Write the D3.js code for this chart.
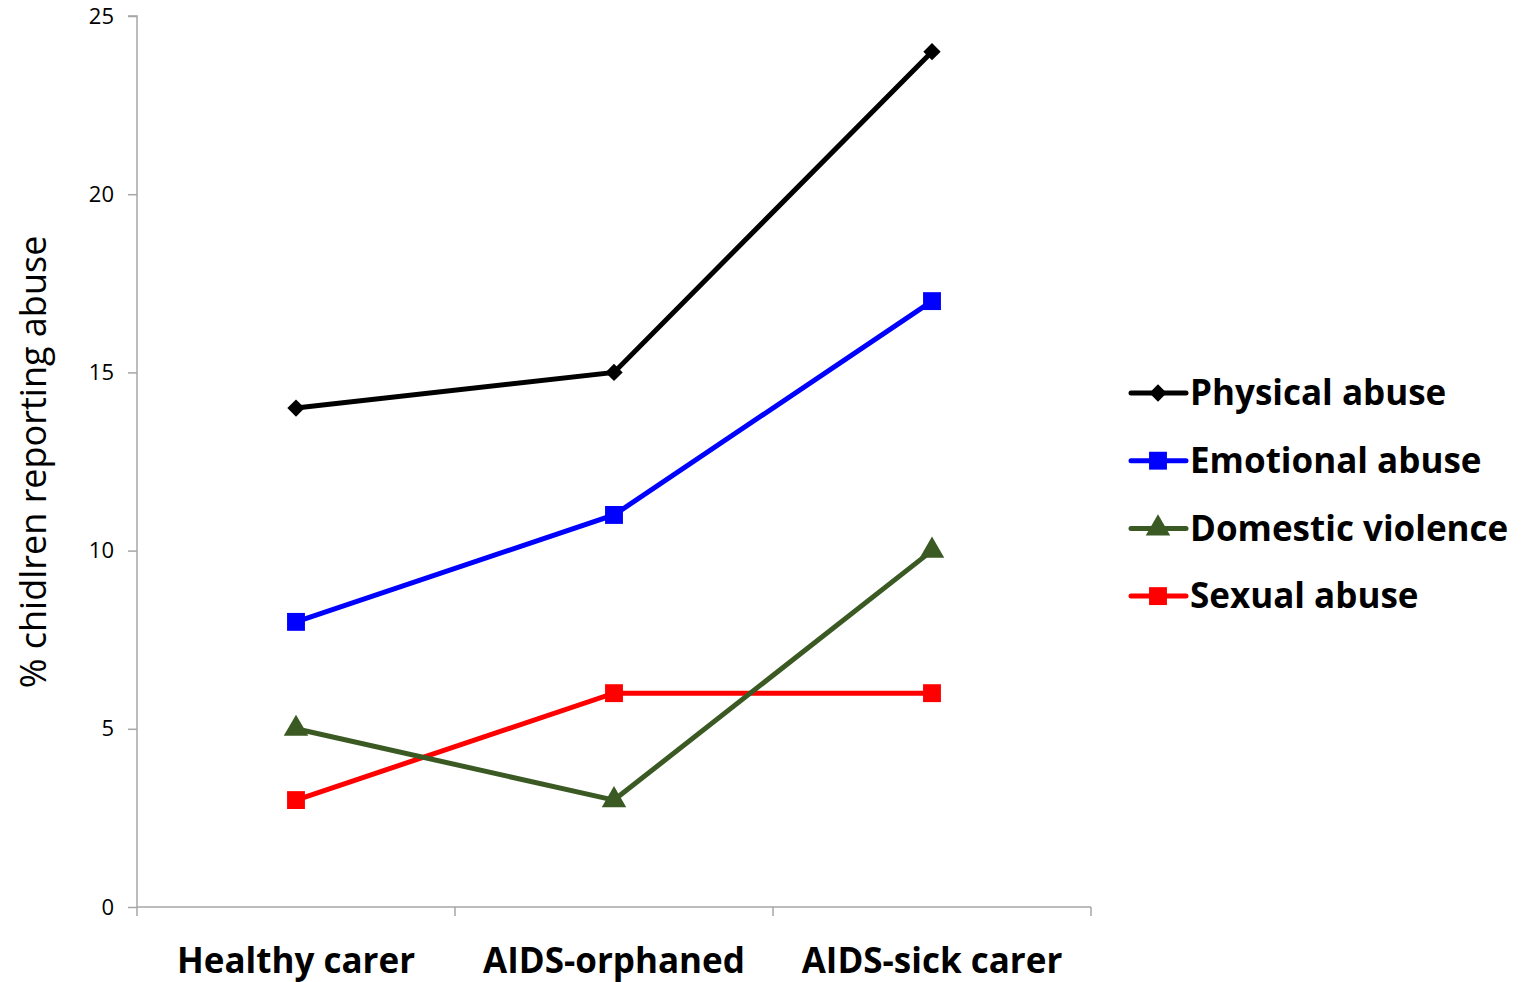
<!DOCTYPE html>
<html>
<head>
<meta charset="utf-8">
<script src="https://cdn.jsdelivr.net/npm/d3@7"></script>
<style>
  body { margin: 0; background: #fff; }
  svg text { font-family: "Open Sans", "Liberation Sans", sans-serif; }
</style>
</head>
<body>
<div id="chart"></div>
<script>
'use strict';

var categories = ["Healthy carer", "AIDS-orphaned", "AIDS-sick carer"];
var seriesNames = ["Physical abuse", "Emotional abuse", "Domestic violence", "Sexual abuse"];
var physical = [14, 15, 24];
var emotional = [8, 11, 17];
var domestic = [5, 3, 10];
var sexual = [3, 6, 6];
var yTicks = [0, 5, 10, 15, 20, 25];

// diamond is a square turned 45deg (d3's own diamond is too narrow)
var colors = ["#000000", "#0000ff", "#3b5a23", "#ff0000"],
    symbols = [d3.symbolSquare, d3.symbolSquare, d3.symbolTriangle, d3.symbolSquare],
    symRotate = [45, 0, 0, 0],
    symSize = [150, 320, 260, 320],
    allValues = [physical, emotional, domestic, sexual];

var width = 1521, height = 982,
    margin = { top: 16, left: 137, right: 430, bottom: 75 };

var svg = d3.select("#chart").append("svg")
    .attr("width", width)
    .attr("height", height);

var x = d3.scaleBand()
    .domain(categories)
    .range([margin.left, width - margin.right]);

var y = d3.scaleLinear()
    .domain([0, 25])
    .range([height - margin.bottom, margin.top]);

//y axis
var yAxis = svg.append("g")
    .attr("transform", "translate(" + margin.left + ",0)")
    .call(d3.axisLeft(y).tickValues(yTicks).tickSize(9).tickPadding(14));
yAxis.selectAll("path, line").attr("stroke", "#a6a6a6").attr("stroke-width", 1.5);
yAxis.select(".domain").attr("d", "M-9," + y(25) + "H0V" + y(0));
yAxis.selectAll("text")
    .attr("font-size", "22px")
    .attr("fill", "#000");

//x axis
var xAxis = svg.append("g")
    .attr("transform", "translate(0," + y(0) + ")");
xAxis.append("line")
    .attr("x1", margin.left).attr("x2", width - margin.right)
    .attr("stroke", "#a6a6a6").attr("stroke-width", 1.5);
var edges = categories.map(function(c) { return x(c); }).concat([x.range()[1]]);
xAxis.selectAll(".xtick")
    .data(edges)
    .enter().append("line")
    .attr("x1", function(d) { return d; })
    .attr("x2", function(d) { return d; })
    .attr("y1", 0).attr("y2", 9)
    .attr("stroke", "#a6a6a6").attr("stroke-width", 1.5);
xAxis.selectAll(".xlabel")
    .data(categories)
    .enter().append("text")
    .attr("x", function(d) { return x(d) + x.bandwidth() / 2; })
    .attr("y", 66)
    .attr("text-anchor", "middle")
    .attr("font-size", "35px")
    .attr("font-weight", "bold")
    .attr("fill", "#000")
    .text(function(d) { return d; });

//y label
svg.append("text")
    .attr("transform", "translate(46,462) rotate(-90)")
    .attr("text-anchor", "middle")
    .attr("font-size", "36px")
    .attr("fill", "#000")
    .text("% chidlren reporting abuse");

var line = d3.line()
    .x(function(d, i) { return x(categories[i]) + x.bandwidth() / 2; })
    .y(function(d) { return y(d); });

//lines, bottom series first so black ends on top
for (var s = allValues.length - 1; s >= 0; s--) {
    svg.append("path")
        .attr("d", line(allValues[s]))
        .attr("fill", "none")
        .attr("stroke", colors[s])
        .attr("stroke-width", 5);
}
allValues.forEach(function(vals, s) {
    svg.append("g").selectAll("path")
        .data(vals)
        .enter().append("path")
        .attr("d", d3.symbol().type(symbols[s]).size(symSize[s]))
        .attr("transform", function(d, i) {
            return "translate(" + (x(categories[i]) + x.bandwidth() / 2) + "," + y(d) + ") rotate(" + symRotate[s] + ")";
        })
        .attr("fill", colors[s]);
});

//legend
var legend = svg.append("g").attr("transform", "translate(1131,393)");
var rows = legend.selectAll("g")
    .data(seriesNames)
    .enter().append("g")
    .attr("transform", function(d, i) { return "translate(0," + (i * 67.7) + ")"; });
rows.append("line")
    .attr("x1", 0).attr("x2", 55)
    .attr("stroke", function(d, i) { return colors[i]; })
    .attr("stroke-width", 5)
    .attr("stroke-linecap", "round");
rows.append("path")
    .attr("d", function(d, i) { return d3.symbol().type(symbols[i]).size(symSize[i])(); })
    .attr("transform", function(d, i) { return "translate(27,0) rotate(" + symRotate[i] + ")"; })
    .attr("fill", function(d, i) { return colors[i]; });
rows.append("text")
    .attr("x", 59)
    .attr("dy", "0.35em")
    .attr("font-size", "35px")
    .attr("font-weight", "bold")
    .attr("fill", "#000")
    .text(function(d) { return d; });
</script>
</body>
</html>
